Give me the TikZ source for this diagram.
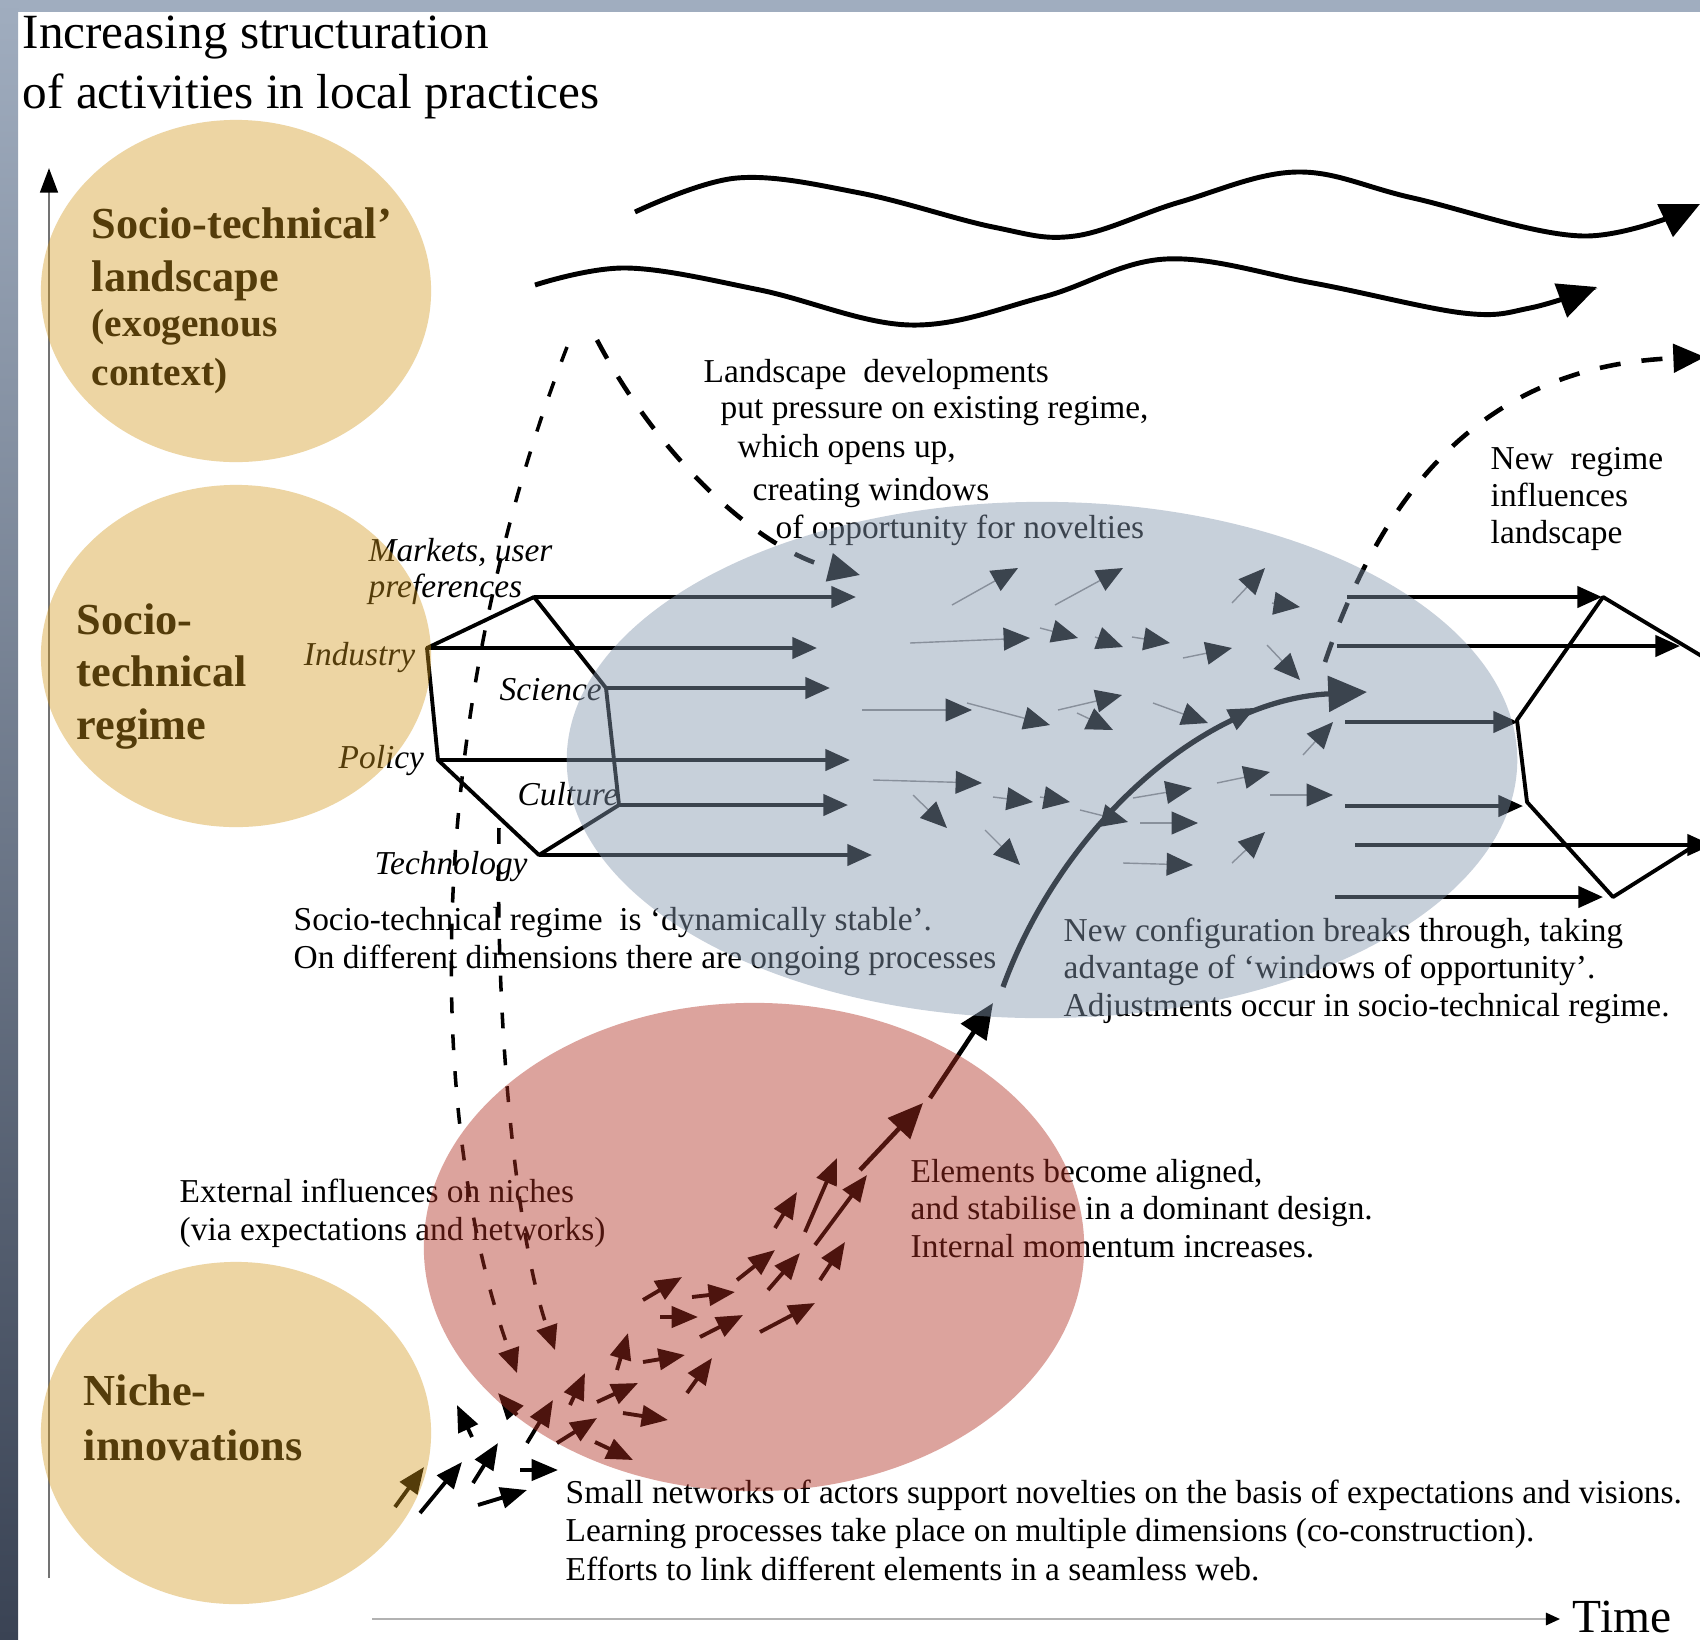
\documentclass[tikz,border=0pt]{standalone}
\usepackage{fontspec}
\setmainfont{Liberation Serif}
\usetikzlibrary{arrows.meta}

\definecolor{framebar}{RGB}{160,173,191}
\definecolor{framedark}{RGB}{58,67,84}
\definecolor{sandfill}{RGB}{210,150,25}
\definecolor{slatefill}{RGB}{133,151,175}
\definecolor{rosefill}{RGB}{176,46,32}

\tikzset{
  note/.style={font=\fontsize{9.5}{10.6}\selectfont, inner sep=0pt, align=left, anchor=base west},
  dimlbl/.style={font=\fontsize{9.5}{10.2}\selectfont\itshape, inner sep=0pt, align=left, anchor=base west},
  levellbl/.style={font=\fontsize{12.6}{14.9}\selectfont\bfseries, inner sep=0pt, align=left, anchor=base west},
  wave/.style={line width=1.4pt, -{Triangle[length=11pt,width=10pt]}},
  infl/.style={line width=1.3pt, dash pattern=on 6pt off 6pt, -{Triangle[length=9pt,width=8pt]}},
  niche infl/.style={line width=1pt, dash pattern=on 4.5pt off 6pt, -{Triangle[length=7pt,width=6pt]}},
  dimarrow/.style={line width=1.1pt, -{Triangle[length=7pt,width=6pt]}},
  drift/.style={draw=black!45, line width=0.4pt, -{Triangle[length=7.5pt,width=6.5pt,color=black]}},
  push/.style={line width=1.1pt, -{Triangle[length=7.5pt,width=6pt]}},
  breakout/.style={line width=1.3pt, -{Triangle[length=10pt,width=8.5pt]}},
}

\begin{document}
\begin{tikzpicture}[x=0.01cm, y=-0.01cm]
  \useasboundingbox (0,0) rectangle (1700,1639);
  \fill[white] (0,0) rectangle (1700,1639);
  \fill[framebar] (0,0) rectangle (1700,12);
  \shade[top color=framebar, bottom color=framedark] (0,0) rectangle (18,1639);

  % axes
  \coordinate (ybot) at (49,1578);
  \coordinate (ytop) at (49,168);
  \draw[black!55, line width=0.8pt, -{Triangle[length=7pt,width=5pt,color=black]}] (ybot) -- (ytop);
  \coordinate (tstart) at (372,1619);
  \coordinate (tend) at (1560,1619);
  \draw[black!30, line width=0.6pt, -{Triangle[length=4pt,width=3.5pt,color=black]}] (tstart) -- (tend);
  \node[anchor=base west, inner sep=0pt, font=\fontsize{13.5}{16}\selectfont] (time) at (1572,1632) {Time};

  % title and level labels (multi-line nodes sit on their last baseline)
  \node[note, font=\fontsize{14}{16.8}\selectfont] (title) at (22,108) {Increasing structuration\\of activities in local practices};
  \node[levellbl] (landlbl) at (91,291) {Socio-technical’\\landscape};
  \node[levellbl, font=\fontsize{11.2}{13.9}\selectfont\bfseries] (landsub) at (91,385) {(exogenous\\context)};
  \node[levellbl] (regimelbl) at (76,739) {Socio-\\technical\\regime};
  \node[levellbl, font=\fontsize{12.6}{15.4}\selectfont\bfseries] (nichelbl) at (83,1460) {Niche-\\innovations};

  % landscape waves
  \draw[wave] plot[smooth, tension=0.6] coordinates {(635,212) (737,178) (860,193) (993,227) (1075,236) (1180,202) (1297,172) (1413,198) (1583,236) (1700,204)};
  \draw[wave] plot[smooth, tension=0.6] coordinates {(535,285) (627,268) (760,290) (910,325) (1043,297) (1166,259) (1313,283) (1463,313) (1530,308) (1597,287)};

  % old regime
  \foreach \v/\px/\py/\tx in {mk/534/597/856, ind/427/648/817, sci/606/688/830, pol/438/760/850, cul/619/805/848, tec/539/855/872} {
    \coordinate (\v) at (\px,\py);
    \coordinate (\v-tip) at (\tx,\py);
  }
  \draw[line width=1.1pt, line join=round] (mk) -- (ind) -- (pol) -- (tec) -- (cul) -- (sci) -- cycle;
  \draw[dimarrow] (mk) -- (mk-tip);
  \draw[dimarrow] (ind) -- (ind-tip);
  \draw[dimarrow] (sci) -- (sci-tip);
  \draw[dimarrow] (pol) -- (pol-tip);
  \draw[dimarrow] (cul) -- (cul-tip);
  \draw[dimarrow] (tec) -- (tec-tip);

  \node[dimlbl] (lmk) at (368,597) {Markets, user\\preferences};
  \node[dimlbl, anchor=base east] (lind) at (416,665) {Industry};
  \node[dimlbl] (lsci) at (499,700) {Science};
  \node[dimlbl] (lpol) at (338,768) {Policy};
  \node[dimlbl] (lcul) at (517,805) {Culture};
  \node[dimlbl] (ltec) at (374,874) {Technology};

  % new regime
  \coordinate (h1) at (1740,679);
  \coordinate (h2) at (1603,597);
  \coordinate (h3) at (1517,720);
  \coordinate (h4) at (1527,802);
  \coordinate (h5) at (1613,897);
  \coordinate (h6) at (1740,817);
  \draw[line width=1.1pt, line join=round] (h1) -- (h2) -- (h3) -- (h4) -- (h5) -- (h6);
  \foreach \i/\sx/\tx/\py in {1/1347/1602/597, 2/1337/1680/646, 3/1345/1518/722, 4/1345/1523/806, 5/1355/1712/845, 6/1335/1603/897} {
    \coordinate (n\i) at (\sx,\py);
    \coordinate (n\i-tip) at (\tx,\py);
    \draw[dimarrow] (n\i) -- (n\i-tip);
  }

  % influences
  \coordinate (landL) at (567,347);
  \coordinate (landR) at (597,340);
  \coordinate (regwin) at (860,575);
  \coordinate (nicheL) at (517,1373);
  \coordinate (regout) at (499,828);
  \coordinate (nicheR) at (555,1350);
  \coordinate (newreg) at (1325,662);
  \coordinate (landnew) at (1705,357);
  \draw[infl] (landR) .. controls (660,460) and (760,550) .. (regwin);
  \draw[niche infl] (landL) .. controls (430,700) and (420,1100) .. (nicheL);
  \draw[niche infl] (regout) .. controls (495,1050) and (520,1250) .. (nicheR);
  \draw[infl] (newreg) .. controls (1390,470) and (1500,365) .. (landnew);

  % ongoing processes in the regime
  \foreach \ax/\ay/\bx/\by in {952/605/1018/568, 1055/605/1123/568, 1232/603/1265/568, 1272/603/1300/607,
      910/643/1030/638, 1040/628/1078/638, 1095/637/1123/647, 1132/637/1170/643, 1183/658/1232/648, 1267/645/1300/680,
      862/710/972/710, 967/703/1050/725, 1058/710/1122/695, 1077/713/1113/730, 1153/703/1208/723,
      873/780/982/783, 993/797/1033/802, 1040/797/1070/802, 913/795/947/828, 985/830/1020/865,
      1080/810/1128/822, 1133/798/1192/788, 1217/783/1270/772, 1140/823/1198/823, 1123/863/1193/865,
      1232/863/1265/832, 1270/795/1333/795, 1303/755/1333/722, 1215/728/1255/708}
    \draw[drift] (\ax,\ay) -- (\bx,\by);

  % niche activity
  \foreach \ax/\ay/\bx/\by in {517/1415/498/1393, 527/1443/553/1400, 570/1405/585/1373, 557/1443/597/1418,
      595/1442/633/1460, 597/1402/638/1383, 617/1370/628/1333, 623/1413/668/1420, 643/1362/685/1355,
      687/1393/712/1358, 643/1300/682/1277, 660/1317/698/1317, 692/1297/735/1292, 700/1337/743/1315,
      760/1332/815/1303, 737/1280/775/1250, 768/1290/800/1253, 820/1280/845/1242, 775/1228/797/1192,
      805/1232/837/1158, 815/1245/867/1175,
      395/1507/424/1467, 420/1513/462/1462, 473/1483/498/1443, 478/1505/527/1490, 472/1437/457/1405, 520/1470/558/1470}
    \draw[push] (\ax,\ay) -- (\bx,\by);

  % breakthrough
  \coordinate (c1) at (860,1170);
  \coordinate (c2) at (923,1103);
  \coordinate (c3) at (930,1098);
  \coordinate (c4) at (993,1003);
  \coordinate (c5) at (1003,987);
  \coordinate (c6) at (1367,692);
  \draw[breakout] (c1) -- (c2);
  \draw[breakout] (c3) -- (c4);
  \draw[line width=1.5pt, -{Triangle[length=11pt,width=10pt]}] (c5) .. controls (1060,830) and (1200,700) .. (c6);

  % notes
  \node[note] (ld1) at (703,382) {Landscape\ \ developments};
  \node[note] (ld2) at (720,418) {put pressure on existing regime,};
  \node[note] (ld3) at (737,457) {which opens up,};
  \node[note] (ld4) at (752,500) {creating windows};
  \node[note] (ld5) at (775,538) {of opportunity for novelties};
  \node[note, font=\fontsize{9.5}{10.4}\selectfont] (newlbl) at (1490,543) {New\ \ regime\\influences\\landscape};
  \node[note] (stable) at (293,968) {Socio-technical regime\ \ is ‘dynamically stable’.\\On different dimensions there are ongoing processes};
  \node[note] (breaks) at (1063,1016) {New configuration breaks through, taking\\advantage of ‘windows of opportunity’.\\Adjustments occur in socio-technical regime.};
  \node[note, font=\fontsize{9.5}{10.8}\selectfont] (external) at (179,1240) {External influences on niches\\(via expectations and networks)};
  \node[note] (aligned) at (910,1257) {Elements become aligned,\\and stabilise in a dominant design.\\Internal momentum increases.};
  \node[note, font=\fontsize{9.5}{10.9}\selectfont] (small) at (565,1580) {Small networks of actors support novelties on the basis of expectations and visions.\\Learning processes take place on multiple dimensions (co-construction).\\Efforts to link different elements in a seamless web.};

  % levels
  \fill[slatefill, fill opacity=0.45] (1042,760) ellipse [x radius=4.75cm, y radius=2.58cm];
  \fill[rosefill, fill opacity=0.44] (754,1247) ellipse [x radius=3.3cm, y radius=2.44cm];
  \foreach \cy in {291, 656, 1433}
    \fill[sandfill, fill opacity=0.4] (236,\cy) ellipse [x radius=1.95cm, y radius=1.71cm];
\end{tikzpicture}
\end{document}
